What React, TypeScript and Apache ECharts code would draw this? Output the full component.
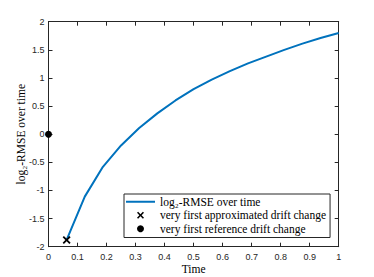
import React, { useEffect, useRef } from "react";
import * as echarts from "echarts";

const timeValues = [0.0625, 0.125, 0.1875, 0.25, 0.3125, 0.375, 0.4375, 0.5, 0.5625, 0.625, 0.6875, 0.75, 0.8125, 0.875, 0.9375, 1.0];
const rmseValues = [-1.88, -1.11, -0.58, -0.2, 0.11, 0.37, 0.6, 0.8, 0.97, 1.12, 1.26, 1.38, 1.5, 1.61, 1.71, 1.8];
const approxChange = [[0.0625, -1.88]];
const referenceChange = [[0, 0]];
const seriesNames = [
  "log\u2082-RMSE over time",
  "very first approximated drift change",
  "very first reference drift change",
];
const xTicks = { min: 0, max: 1, interval: 0.1 };
const yTicks = { min: -2, max: 2, interval: 0.5 };

const CROSS = "path://M0,1.6L1.6,0L5,3.4L8.4,0L10,1.6L6.6,5L10,8.4L8.4,10L5,6.6L1.6,10L0,8.4L3.4,5Z";
const LINE_ICON = "path://M0,0H29V2H0Z";
const AXIS_COLOR = "#262626";
const SERIF = "'Liberation Serif', 'DejaVu Serif', serif";
const SANS = "'Liberation Sans', Arial, sans-serif";

const fmt = (v: number) => String(Math.round(v * 10) / 10);

export default function App() {
  const ref = useRef<HTMLDivElement>(null);
  useEffect(() => {
    if (!ref.current) return;
    const chart = echarts.init(ref.current, undefined, { renderer: "svg" });
    const baseAxis = {
      type: "value" as const,
      splitLine: { show: false },
      axisLine: { show: true, onZero: false, lineStyle: { color: AXIS_COLOR, width: 1 } },
      axisTick: { show: true, inside: true, length: 4, lineStyle: { color: AXIS_COLOR, width: 1 } },
    };
    chart.setOption({
      animation: false,
      backgroundColor: "#fff",
      grid: {
        left: 48.5,
        right: 35.3,
        top: 21.7,
        bottom: 30.3,
        containLabel: false,
        outerBoundsMode: "none",
      },
      xAxis: [
        {
          ...baseAxis,
          position: "bottom",
          ...xTicks,
          axisLabel: { fontSize: 9, color: AXIS_COLOR, fontFamily: SANS, margin: 6, formatter: fmt },
          name: "Time",
          nameLocation: "middle",
          nameGap: 16,
          nameMoveOverlap: false,
          nameTextStyle: { fontFamily: SERIF, fontSize: 11.5, color: "#000" },
        },
        {
          ...baseAxis,
          position: "top",
          ...xTicks,
          axisLabel: { show: false },
        },
      ],
      yAxis: [
        {
          ...baseAxis,
          position: "left",
          ...yTicks,
          axisLabel: { fontSize: 9, color: AXIS_COLOR, fontFamily: SANS, margin: 4, formatter: fmt },
          name: seriesNames[0],
          nameLocation: "middle",
          nameGap: 22,
          nameMoveOverlap: false,
          nameRotate: 90,
          nameTextStyle: { fontFamily: SERIF, fontSize: 11.5, color: "#000" },
        },
        {
          ...baseAxis,
          position: "right",
          ...yTicks,
          axisLabel: { show: false },
        },
      ],
      legend: {
        orient: "vertical",
        left: 124,
        top: 194,
        padding: [1, 4, 2, 2],
        itemGap: 0,
        itemWidth: 29,
        itemHeight: 7,
        borderColor: AXIS_COLOR,
        borderWidth: 1,
        backgroundColor: "#fff",
        textStyle: { fontFamily: SERIF, fontSize: 11.5, lineHeight: 13.5, color: "#000" },
        data: [
          { name: seriesNames[0], icon: LINE_ICON },
          { name: seriesNames[1] },
          { name: seriesNames[2] },
        ],
      },
      series: [
        {
          name: seriesNames[0],
          type: "line",
          data: timeValues.map((t, i) => [t, rmseValues[i]]),
          symbol: "none",
          lineStyle: { color: "#0072BD", width: 2 },
          itemStyle: { color: "#0072BD" },
          z: 2,
        },
        {
          name: seriesNames[1],
          type: "scatter",
          data: approxChange,
          symbol: CROSS,
          symbolSize: 8,
          itemStyle: { color: "#000", opacity: 1 },
          z: 3,
        },
        {
          name: seriesNames[2],
          type: "scatter",
          data: referenceChange,
          symbol: "circle",
          symbolSize: 7,
          itemStyle: { color: "#000", opacity: 1 },
          z: 3,
        },
      ],
    });
    return () => chart.dispose();
  }, []);
  return (
    <div
      ref={ref}
      style={{ position: "fixed", left: 0, top: 0, width: 374, height: 277, background: "#fff" }}
    />
  );
}
